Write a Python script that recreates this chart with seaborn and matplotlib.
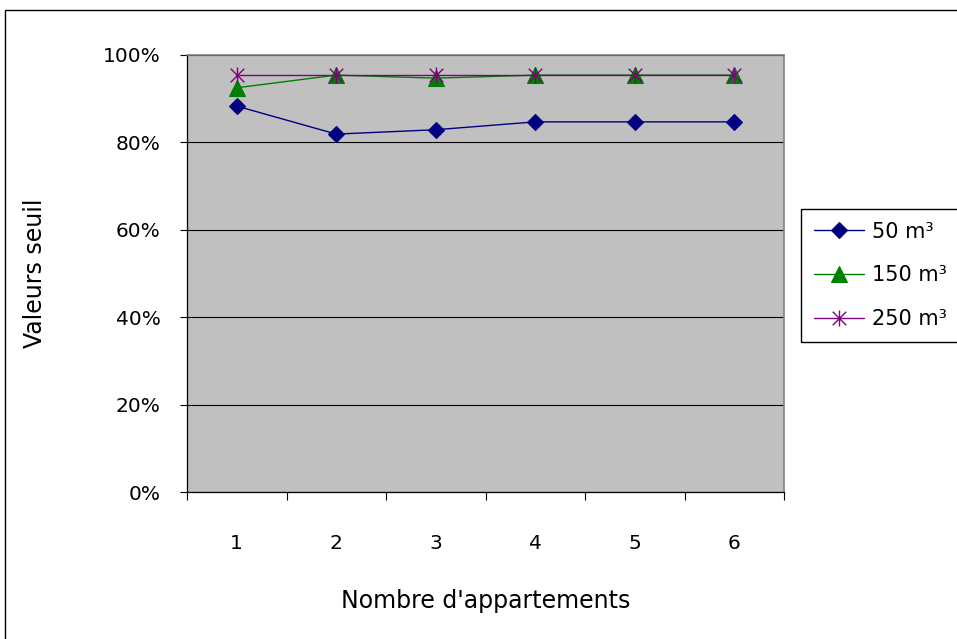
import matplotlib
matplotlib.use("Agg")
import matplotlib.pyplot as plt
from matplotlib.path import Path
from matplotlib.patches import Rectangle
from matplotlib.ticker import PercentFormatter, FixedLocator
import seaborn as sns

# Number of apartments on the x axis
appartements = [1, 2, 3, 4, 5, 6]
x_tick_labels = ["1", "2", "3", "4", "5", "6"]

# Threshold values (fraction) per storage volume
seuil_50 = [0.883, 0.819, 0.829, 0.847, 0.847, 0.847]
seuil_150 = [0.925, 0.954, 0.947, 0.954, 0.954, 0.954]
seuil_250 = [0.954, 0.954, 0.954, 0.954, 0.954, 0.954]
series_labels = ["50 m³", "150 m³", "250 m³"]
y_ticks = [0.0, 0.2, 0.4, 0.6, 0.8, 1.0]

sns.set_style("white")
plt.rcParams["font.family"] = ["DejaVu Sans"]
plt.rcParams["text.color"] = "black"
plt.rcParams["axes.labelcolor"] = "black"
plt.rcParams["xtick.color"] = "black"
plt.rcParams["ytick.color"] = "black"

W, H = 957, 639
fig = plt.figure(figsize=(W / 100, H / 100), dpi=100)
ax = fig.add_axes([187 / W, 1 - 492 / H, (784 - 187) / W, (492 - 55) / H])
ax.set_facecolor("#C0C0C0")

# Asterisk marker: vertical stroke plus an X
star = Path(
    [(0, -1), (0, 1), (-0.85, -0.85), (0.85, 0.85), (-0.85, 0.85), (0.85, -0.85)],
    [Path.MOVETO, Path.LINETO, Path.MOVETO, Path.LINETO, Path.MOVETO, Path.LINETO],
)

styles = [
    dict(y=seuil_50, color="#000080", marker="D", markersize=8.5, mew=0.8),
    dict(y=seuil_150, color="#008000", marker="^", markersize=11, mew=0.8),
    dict(y=seuil_250, color="#800080", marker=star, markersize=11.5, mew=1.0),
]
for st, lab in zip(styles, series_labels):
    sns.lineplot(
        x=appartements, y=st["y"], ax=ax, color=st["color"], linewidth=1.0,
        marker=st["marker"], markersize=st["markersize"],
        markeredgecolor=st["color"], markerfacecolor=st["color"],
        markeredgewidth=st["mew"], label=lab, clip_on=False,
    )

ax.set_xlim(0.5, 6.5)
ax.set_ylim(0, 1)

# Y axis: percentages with black gridlines
ax.set_yticks(y_ticks)
ax.yaxis.set_major_formatter(PercentFormatter(1.0, decimals=0))
ax.set_axisbelow(True)
ax.grid(axis="y", color="black", linewidth=0.8)
ax.grid(axis="x", visible=False)
ax.tick_params(axis="y", which="major", direction="out", length=5, width=0.8,
               color="black", labelcolor="black", left=True, pad=14, labelsize=14.5)

# X axis: category labels centred, tick marks at category boundaries
ax.set_xticks(appartements)
ax.set_xticklabels(x_tick_labels)
ax.xaxis.set_minor_locator(FixedLocator([0.5, 1.5, 2.5, 3.5, 4.5, 5.5, 6.5]))
ax.tick_params(axis="x", which="major", length=0, pad=30, labelsize=14.5,
               labelcolor="black")
ax.tick_params(axis="x", which="minor", direction="out", length=6, width=0.8,
               color="black", bottom=True)

for side in ["left", "bottom"]:
    ax.spines[side].set_color("black")
    ax.spines[side].set_linewidth(0.9)
for side in ["top", "right"]:
    ax.spines[side].set_visible(True)
    ax.spines[side].set_color("#808080")
    ax.spines[side].set_linewidth(1.2)

ax.set_xlabel("Nombre d'appartements", fontsize=17, color="black")
ax.set_ylabel("Valeurs seuil", fontsize=17, color="black")
ax.xaxis.set_label_coords(0.5, (492 - 601) / 437)
ax.xaxis.label.set_va("center")
ax.yaxis.set_label_coords((35 - 187) / 597, (492 - 273) / 437)
ax.yaxis.label.set_va("center")

handles, labels = ax.get_legend_handles_labels()
leg = ax.legend(
    handles, labels, loc="upper left",
    bbox_to_anchor=(801 / W, 1 - 209 / H), bbox_transform=fig.transFigure,
    frameon=True, fancybox=False, edgecolor="black", framealpha=1,
    borderaxespad=0, fontsize=15, handlelength=2.4, handletextpad=0.4,
    labelspacing=1.15, borderpad=0.6,
)
leg.get_frame().set_linewidth(1.0)
for t in leg.get_texts():
    t.set_color("black")

# Outer chart frame
fig.add_artist(Rectangle((5 / W, -0.2), 2.0, 1.2 - 10 / H, transform=fig.transFigure,
                         fill=False, edgecolor="black", linewidth=1.0))

fig.savefig("out.png", dpi=100)
